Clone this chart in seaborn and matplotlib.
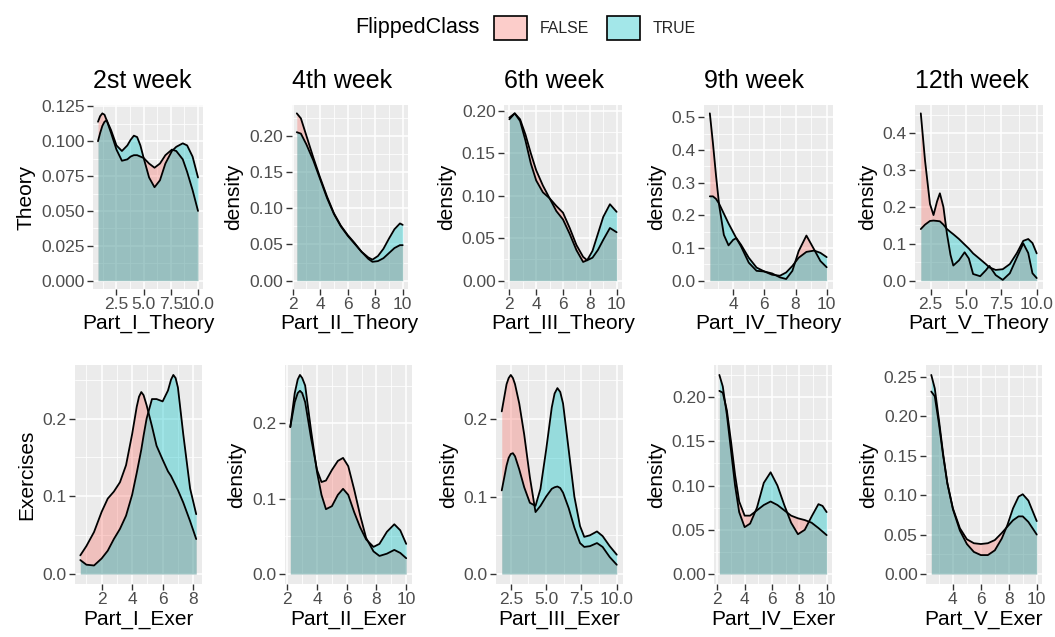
import matplotlib
matplotlib.use("Agg")
import numpy as np
import pandas as pd
import seaborn as sns
import matplotlib.pyplot as plt
from matplotlib.ticker import FixedLocator, AutoMinorLocator, FixedFormatter
from matplotlib.patches import Patch

# ---------------- data ----------------
groups = ["FALSE", "TRUE"]
titles = ["2st week", "4th week", "6th week", "9th week", "12th week"]
xlabels_top = ["Part_I_Theory", "Part_II_Theory", "Part_III_Theory", "Part_IV_Theory", "Part_V_Theory"]
xlabels_bot = ["Part_I_Exer", "Part_II_Exer", "Part_III_Exer", "Part_IV_Exer", "Part_V_Exer"]
ylabels_top = ["Theory", "density", "density", "density", "density"]
ylabels_bot = ["Exercises", "density", "density", "density", "density"]

# Part I Theory
p1_x = [0.8, 1.0, 1.2, 1.4, 1.6, 2.0, 2.5, 3.0, 3.5, 3.8, 4.1, 4.4, 4.7, 5.0, 5.5, 6.0, 6.5, 7.0, 7.6, 8.0, 8.6, 9.0, 9.5, 10.0]
p1_false = [.114, .118, .120, .119, .115, .106, .094, .086, .087, .089, .090, .090, .089, .088, .084, .081, .084, .090, .094, .093, .087, .078, .065, .050]
p1_true = [.100, .106, .111, .114, .115, .108, .097, .093, .097, .101, .104, .103, .097, .088, .074, .067, .072, .084, .093, .096, .0985, .097, .089, .074]
# Part II Theory
p2_x = [2.3, 2.6, 3.0, 3.5, 4.0, 4.5, 5.0, 5.5, 6.0, 6.5, 7.0, 7.5, 7.8, 8.2, 8.6, 9.0, 9.4, 9.8, 10.0]
p2_false = [.231, .224, .200, .170, .142, .116, .093, .076, .063, .052, .040, .030, .026, .027, .031, .038, .045, .049, .049]
p2_true = [.205, .203, .188, .166, .140, .114, .092, .075, .062, .051, .040, .032, .029, .034, .044, .058, .071, .079, .077]
# Part III Theory
p3_x = [2.0, 2.4, 2.8, 3.2, 3.6, 4.0, 4.5, 5.0, 5.5, 6.0, 6.5, 7.0, 7.5, 7.8, 8.2, 8.6, 9.0, 9.5, 10.0]
p3_false = [.190, .197, .190, .172, .150, .130, .112, .097, .088, .080, .062, .042, .028, .024, .027, .036, .048, .062, .057]
p3_true = [.192, .197, .188, .165, .138, .118, .104, .097, .082, .072, .055, .036, .022, .024, .035, .055, .075, .090, .081]
# Part IV Theory
p4_x = [2.5, 2.7, 2.9, 3.1, 3.4, 3.7, 4.0, 4.2, 4.5, 5.0, 5.5, 6.0, 6.5, 7.0, 7.4, 7.8, 8.2, 8.7, 9.2, 9.6, 10.0]
p4_false = [.512, .420, .320, .230, .140, .108, .125, .130, .105, .055, .030, .028, .022, .010, .005, .030, .090, .138, .095, .060, .041]
p4_true = [.258, .258, .250, .235, .205, .175, .148, .130, .110, .070, .040, .028, .018, .015, .025, .045, .070, .088, .092, .085, .072]
# Part V Theory
p5_x = [1.8, 2.1, 2.45, 2.7, 2.95, 3.15, 3.4, 3.65, 3.9, 4.1, 4.5, 4.9, 5.2, 5.5, 6.0, 6.4, 6.65, 7.1, 7.6, 8.1, 8.6, 9.05, 9.4, 9.7, 10.0]
p5_false = [.454, .326, .208, .178, .215, .237, .200, .127, .070, .041, .055, .077, .060, .018, .012, .028, .040, .015, .002, .020, .063, .101, .075, .020, .007]
p5_true = [.140, .152, .162, .163, .162, .161, .152, .140, .132, .126, .113, .098, .087, .074, .058, .045, .036, .029, .031, .045, .075, .108, .113, .102, .074]
# Part I Exer
p6_x = [0.6, 1.0, 1.5, 2.0, 2.4, 2.8, 3.2, 3.6, 4.0, 4.3, 4.45, 4.6, 4.75, 4.95, 5.3, 5.6, 6.0, 6.35, 6.55, 6.7, 6.85, 7.0, 7.35, 7.8, 8.2]
p6_false = [.024, .036, .054, .080, .097, .106, .118, .140, .180, .215, .228, .234, .230, .217, .190, .165, .147, .132, .126, .120, .114, .108, .092, .068, .045]
p6_true = [.018, .012, .011, .020, .030, .045, .058, .075, .102, .130, .145, .160, .178, .200, .225, .225, .222, .236, .250, .256, .252, .240, .180, .110, .077]
# Part II Exer
p7_x = [2.2, 2.5, 2.7, 2.85, 3.0, 3.2, 3.6, 4.0, 4.3, 4.6, 5.0, 5.4, 5.75, 6.1, 6.5, 6.9, 7.3, 7.8, 8.2, 8.7, 9.2, 9.6, 10.0]
p7_false = [.195, .228, .240, .243, .240, .228, .180, .138, .122, .124, .138, .150, .154, .143, .112, .078, .048, .030, .024, .027, .032, .028, .021]
p7_true = [.195, .240, .258, .264, .260, .250, .190, .135, .105, .086, .090, .105, .113, .105, .082, .062, .046, .036, .040, .056, .066, .058, .040]
# Part III Exer
p8_x = [1.86, 2.2, 2.35, 2.5, 2.65, 2.8, 3.1, 3.45, 3.85, 4.25, 4.6, 5.0, 5.4, 5.6, 5.8, 6.0, 6.2, 6.6, 7.0, 7.4, 7.7, 8.1, 8.6, 9.0, 9.5, 10.0]
p8_false = [.210, .245, .253, .257, .253, .245, .220, .180, .125, .080, .088, .100, .110, .112, .113, .111, .105, .085, .060, .040, .035, .036, .040, .035, .022, .012]
p8_true = [.108, .140, .150, .155, .156, .152, .135, .112, .092, .088, .110, .160, .215, .233, .240, .235, .220, .160, .100, .062, .048, .050, .055, .049, .036, .025]
# Part IV Exer
p9_x = [2.15, 2.4, 2.7, 3.0, 3.3, 3.6, 4.0, 4.4, 4.9, 5.4, 5.9, 6.4, 6.9, 7.4, 7.9, 8.4, 8.9, 9.4, 9.7, 10.0]
p9_false = [.207, .205, .185, .150, .112, .082, .066, .066, .072, .078, .082, .078, .072, .066, .063, .061, .058, .052, .048, .044]
p9_true = [.225, .212, .180, .140, .100, .070, .053, .057, .075, .103, .115, .100, .078, .058, .045, .050, .065, .079, .077, .070]
# Part V Exer
p10_x = [2.45, 2.7, 3.0, 3.3, 3.6, 4.0, 4.5, 5.0, 5.5, 6.0, 6.5, 7.0, 7.5, 7.9, 8.3, 8.7, 9.0, 9.4, 9.7, 10.0]
p10_false = [.231, .225, .190, .150, .115, .083, .058, .044, .039, .038, .039, .043, .052, .060, .068, .073, .073, .066, .058, .050]
p10_true = [.252, .235, .195, .152, .115, .082, .055, .038, .028, .024, .024, .030, .045, .062, .083, .098, .101, .093, .080, .067]

xticks_all = [[2.5, 5.0, 7.5, 10.0], [2, 4, 6, 8, 10], [2, 4, 6, 8, 10], [4, 6, 8, 10], [2.5, 5.0, 7.5, 10.0],
              [2, 4, 6, 8], [2, 4, 6, 8, 10], [2.5, 5.0, 7.5, 10.0], [2, 4, 6, 8, 10], [4, 6, 8, 10]]
xtick_labels = [["2.5", "5.0", "7.5", "10.0"], ["2", "4", "6", "8", "10"], ["2", "4", "6", "8", "10"],
                ["4", "6", "8", "10"], ["2.5", "5.0", "7.5", "10.0"], ["2", "4", "6", "8"],
                ["2", "4", "6", "8", "10"], ["2.5", "5.0", "7.5", "10.0"], ["2", "4", "6", "8", "10"],
                ["4", "6", "8", "10"]]
yticks_all = [[0, .025, .05, .075, .1, .125], [0, .05, .1, .15, .2], [0, .05, .1, .15, .2],
              [0, .1, .2, .3, .4, .5], [0, .1, .2, .3, .4], [0, .1, .2], [0, .1, .2], [0, .1, .2],
              [0, .05, .1, .15, .2], [0, .05, .1, .15, .2, .25]]
ytick_labels = [["0.000", "0.025", "0.050", "0.075", "0.100", "0.125"],
                ["0.00", "0.05", "0.10", "0.15", "0.20"], ["0.00", "0.05", "0.10", "0.15", "0.20"],
                ["0.0", "0.1", "0.2", "0.3", "0.4", "0.5"], ["0.0", "0.1", "0.2", "0.3", "0.4"],
                ["0.0", "0.1", "0.2"], ["0.0", "0.1", "0.2"], ["0.0", "0.1", "0.2"],
                ["0.00", "0.05", "0.10", "0.15", "0.20"], ["0.00", "0.05", "0.10", "0.15", "0.20", "0.25"]]

# ---------------- style ----------------
sns.set_theme(style="darkgrid", rc={
    "axes.facecolor": "#EBEBEB", "grid.color": "white", "figure.facecolor": "white",
})
plt.rcParams["font.family"] = ["Liberation Sans", "DejaVu Sans"]

C_FALSE = "#F8766D"
C_TRUE = "#00BFC4"
ALPHA = 0.36

fig = plt.figure(figsize=(10.55, 6.37), dpi=100)
W, H = 1055, 637

# panel boxes in pixels: (left, right)
top_lr = [(93, 203), (291.5, 408), (504, 622), (704, 832.5), (915, 1042.5)]
bot_lr = [(74.5, 202), (284.5, 412), (496, 622.5), (714, 832), (926, 1042)]
top_tb = (105, 289)
bot_tb = (365, 584)

panels = [(p1_x, p1_false, p1_true), (p2_x, p2_false, p2_true), (p3_x, p3_false, p3_true),
          (p4_x, p4_false, p4_true), (p5_x, p5_false, p5_true), (p6_x, p6_false, p6_true),
          (p7_x, p7_false, p7_true), (p8_x, p8_false, p8_true), (p9_x, p9_false, p9_true),
          (p10_x, p10_false, p10_true)]

for i, (xs, yf, yt) in enumerate(panels):
    row = i // 5
    col = i % 5
    l, r = (top_lr if row == 0 else bot_lr)[col]
    t, b = top_tb if row == 0 else bot_tb
    ax = fig.add_axes([l / W, 1 - b / H, (r - l) / W, (b - t) / H])

    df = pd.DataFrame({"x": xs * 2, "density": yf + yt,
                       "FlippedClass": ["FALSE"] * len(xs) + ["TRUE"] * len(xs)})
    for g, col_c in zip(groups, [C_FALSE, C_TRUE]):
        d = df[df["FlippedClass"] == g]
        ax.fill_between(d["x"], 0, d["density"], color=col_c, alpha=ALPHA, lw=0, zorder=2)
        sns.lineplot(data=d, x="x", y="density", color="black", lw=1.3, ax=ax, zorder=3,
                     estimator=None, sort=True)

    xmin, xmax = min(xs), max(xs)
    rng = xmax - xmin
    ax.set_xlim(xmin - 0.05 * rng, xmax + 0.05 * rng)
    ymax = max(max(yf), max(yt))
    ax.set_ylim(-0.05 * ymax, 1.05 * ymax)

    ax.xaxis.set_major_locator(FixedLocator(xticks_all[i]))
    ax.xaxis.set_major_formatter(FixedFormatter(xtick_labels[i]))
    ax.yaxis.set_major_locator(FixedLocator(yticks_all[i]))
    ax.yaxis.set_major_formatter(FixedFormatter(ytick_labels[i]))
    ax.xaxis.set_minor_locator(AutoMinorLocator(2))
    ax.yaxis.set_minor_locator(AutoMinorLocator(2))
    ax.grid(which="major", color="white", lw=1.1, zorder=0)
    ax.grid(which="minor", color="white", lw=0.55, zorder=0)
    ax.set_axisbelow(True)
    ax.tick_params(which="major", length=4, width=1.0, color="#333333",
                   labelsize=12.5, labelcolor="#4D4D4D", pad=2, bottom=True, left=True)
    ax.tick_params(which="minor", length=0)
    for s in ax.spines.values():
        s.set_visible(False)

    if row == 0:
        ax.set_title(titles[col], loc="left", fontsize=18, pad=12, color="black")
        ax.set_xlabel(xlabels_top[col], fontsize=15, color="black", labelpad=1)
        ax.set_ylabel(ylabels_top[col], fontsize=15, color="black", labelpad=4)
    else:
        ax.set_xlabel(xlabels_bot[col], fontsize=15, color="black", labelpad=2)
        ax.set_ylabel(ylabels_bot[col], fontsize=15, color="black", labelpad=4)

# legend
fig.text(355 / W, 1 - 28 / H, "FlippedClass", fontsize=15.5, va="center", ha="left", color="black")
handles = [Patch(facecolor=matplotlib.colors.to_rgba(C_FALSE, ALPHA), edgecolor="black", lw=1.2),
           Patch(facecolor=matplotlib.colors.to_rgba(C_TRUE, ALPHA), edgecolor="black", lw=1.2)]
fig.legend(handles, groups, ncol=2, loc="center left", bbox_to_anchor=(494 / W, 1 - 28 / H),
           frameon=False, fontsize=11.4, handlelength=2.1, handleheight=1.9, handletextpad=0.8,
           columnspacing=1.1, borderpad=0, borderaxespad=0)

fig.savefig("out.png", dpi=100)
